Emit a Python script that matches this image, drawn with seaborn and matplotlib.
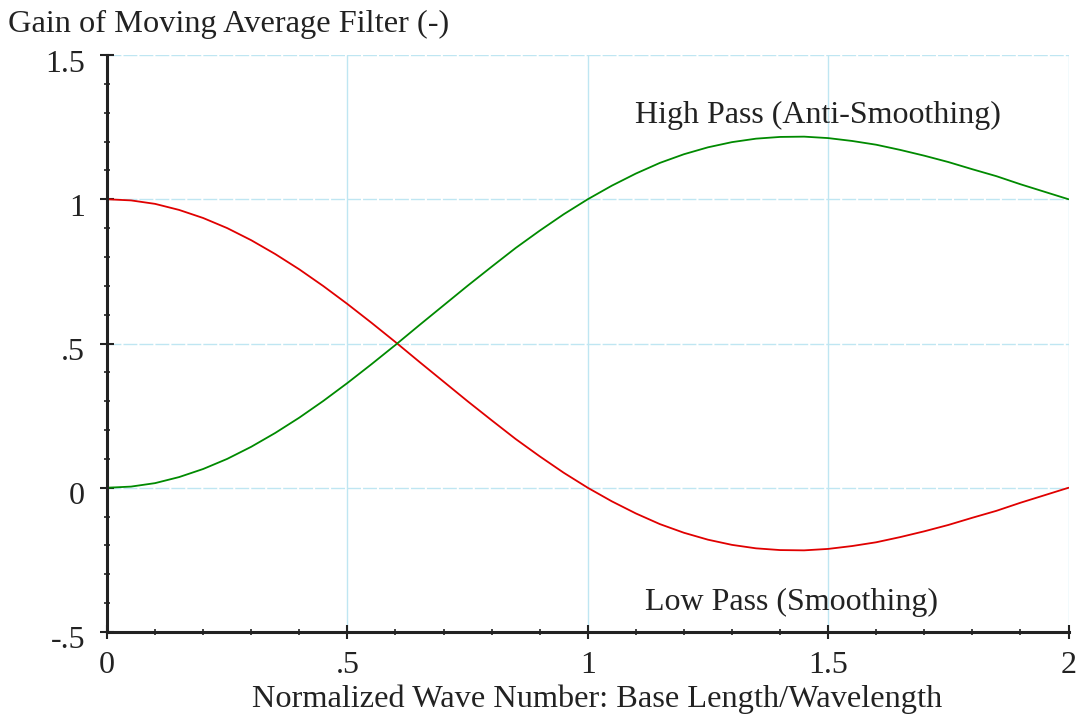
import matplotlib
matplotlib.use("Agg")
import matplotlib.pyplot as plt
import matplotlib.transforms as mtransforms
import seaborn as sns
import pandas as pd
from matplotlib.ticker import MultipleLocator, FixedLocator, FixedFormatter

wave_number = [0.00, 0.05, 0.10, 0.15, 0.20, 0.25, 0.30, 0.35, 0.40, 0.45,
               0.50, 0.55, 0.60, 0.65, 0.70, 0.75, 0.80, 0.85, 0.90, 0.95,
               1.00, 1.05, 1.10, 1.15, 1.20, 1.25, 1.30, 1.35, 1.40, 1.45,
               1.50, 1.55, 1.60, 1.65, 1.70, 1.75, 1.80, 1.85, 1.90, 1.95, 2.00]
low_pass = [1.000, 0.996, 0.984, 0.963, 0.935, 0.900, 0.858, 0.810, 0.757, 0.699,
            0.637, 0.572, 0.505, 0.436, 0.368, 0.300, 0.234, 0.169, 0.109, 0.052,
            0.000, -0.047, -0.089, -0.126, -0.156, -0.180, -0.198, -0.210, -0.216, -0.217,
            -0.212, -0.202, -0.189, -0.171, -0.151, -0.129, -0.104, -0.080, -0.052, -0.026, 0.000]
high_pass = [0.000, 0.004, 0.016, 0.037, 0.065, 0.100, 0.142, 0.190, 0.243, 0.301,
             0.363, 0.428, 0.495, 0.564, 0.632, 0.700, 0.766, 0.831, 0.891, 0.948,
             1.000, 1.047, 1.089, 1.126, 1.156, 1.180, 1.198, 1.210, 1.216, 1.217,
             1.212, 1.202, 1.189, 1.171, 1.151, 1.129, 1.104, 1.080, 1.052, 1.026, 1.000]
x_ticks = [0, 0.5, 1, 1.5, 2]
x_tick_labels = ["0", ".5", "1", "1.5", "2"]
y_ticks = [-0.5, 0, 0.5, 1, 1.5]
y_tick_labels = ["-.5", "0", ".5", "1", "1.5"]

sns.set_theme(style="white")
plt.rcParams["font.family"] = ["Liberation Serif", "DejaVu Serif"]

df = pd.DataFrame({"x": wave_number, "low": low_pass, "high": high_pass})

fig = plt.figure(figsize=(10.78, 7.17), dpi=100)
ax = fig.add_axes([107/1078, 1 - 632/717, (1068.5 - 107)/1078, (632 - 55)/717])

grid_c = "#bfe6f2"
for xv in [0.5, 1.0, 1.5, 2.0]:
    ax.axvline(xv, color=grid_c, lw=1.0, zorder=0)
for yv in [0, 0.5, 1.0, 1.5]:
    ax.axhline(yv, color=grid_c, lw=1.0, ls=(0, (10, 1.5)), zorder=0)

sns.lineplot(data=df, x="x", y="low", ax=ax, color="#e00000", lw=1.3)
sns.lineplot(data=df, x="x", y="high", ax=ax, color="#008a00", lw=1.3)

ax.set_xlim(0, 2)
ax.set_ylim(-0.5, 1.5)
ax.set_xlabel("Normalized Wave Number: Base Length/Wavelength", fontsize=23.3,
              color="#222222")
ax.xaxis.set_label_coords(0.5096, -0.0915)
ax.set_ylabel("")
ax.xaxis.set_major_locator(FixedLocator(x_ticks))
ax.xaxis.set_major_formatter(FixedFormatter(x_tick_labels))
ax.yaxis.set_major_locator(FixedLocator(y_ticks))
ax.yaxis.set_major_formatter(FixedFormatter(y_tick_labels))
ax.xaxis.set_minor_locator(MultipleLocator(0.1))
ax.yaxis.set_minor_locator(MultipleLocator(0.1))
ax.tick_params(axis="both", which="major", direction="inout", length=9.4, width=1.5,
               labelsize=23, colors="#222222", bottom=True, left=True)
ax.tick_params(axis="x", which="major", pad=9.2)
ax.tick_params(axis="y", which="major", pad=11.1)
ax.tick_params(axis="both", which="minor", direction="inout", length=4.5, width=1.2,
               color="#222222", bottom=True, left=True)
for s in ["top", "right"]:
    ax.spines[s].set_visible(False)
for s in ["left", "bottom"]:
    ax.spines[s].set_color("#222222")
    ax.spines[s].set_linewidth(2.2)

shift = mtransforms.ScaledTranslation(0, -5.5/100, fig.dpi_scale_trans)
for lab in ax.get_yticklabels():
    lab.set_transform(lab.get_transform() + shift)

ax.text(1.478, 1.292, "High Pass (Anti-Smoothing)", fontsize=23, color="#222222",
        ha="center", va="center")
ax.text(1.424, -0.399, "Low Pass (Smoothing)", fontsize=23, color="#222222",
        ha="center", va="center")
fig.text(8/1078, 1 - 24/717, "Gain of Moving Average Filter (-)", fontsize=23.3,
         color="#222222", ha="left", va="center")

fig.savefig("out.png", dpi=100, facecolor="white")
